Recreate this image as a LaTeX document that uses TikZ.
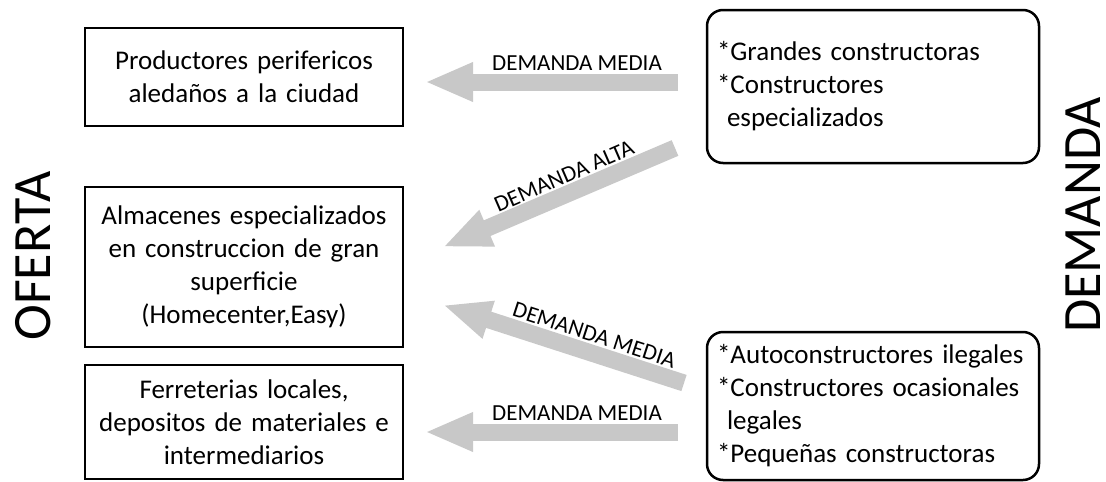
\documentclass[tikz,border=0pt]{standalone}
\usepackage{fontspec}
\setmainfont{Carlito}
\usepackage{tikz}
\usetikzlibrary{arrows.meta}

\definecolor{grisflecha}{RGB}{200,200,200}

\begin{document}
\begin{tikzpicture}[x=1pt, y=-1pt,
    caja/.style={draw, line width=2.5pt, minimum width=318pt, text width=300pt, align=center, font=\fontsize{27}{33}\selectfont},
    cajar/.style={draw, line width=2.5pt, rounded corners=16pt, minimum width=332pt, text width=312pt, inner xsep=10pt, align=left, font=\fontsize{27}{33}\selectfont},
    flecha/.style={draw=grisflecha, line width=17pt, -{Triangle[length=48pt, width=36pt]}},
    etiqueta/.style={inner sep=0pt, anchor=base, font=\fontsize{23}{28}\selectfont},
    titulo/.style={rotate=90, inner sep=0pt, anchor=base, font=\fontsize{54}{60}\selectfont}]
    
    \useasboundingbox (0,0) rectangle (1106,482);
    
    \coordinate (t1) at (678, 82);
    \coordinate (h1) at (425, 82);
    \coordinate (t2) at (675, 148);
    \coordinate (h2) at (443, 247);
    \coordinate (t3) at (684, 383);
    \coordinate (h3) at (443, 305);
    \coordinate (t4) at (678, 432);
    \coordinate (h4) at (425, 432);
    
    % oferta
    \node[caja, minimum height=98pt] (o1) at (244, 77) {Productores perifericos\\aledaños a la ciudad};
    \node[caja, minimum height=160pt] (o2) at (244, 267) {Almacenes especializados\\en construccion de gran\\superficie\\(Homecenter,Easy)};
    \node[caja, minimum height=114pt] (o3) at (244, 422) {Ferreterias locales,\\depositos de materiales e\\intermediarios};
    
    % demanda
    \node[cajar, minimum height=153pt] (d1) at (873, 86.5) {*Grandes constructoras\\{}*Constructores\\\hspace*{10pt}especializados};
    \node[cajar, minimum height=148pt] (d2) at (873, 406) {*Autoconstructores ilegales\\{}*Constructores ocasionales\\\hspace*{10pt}legales\\{}*Pequeñas constructoras};
    
    \draw[flecha] (t1) -- (h1);
    \draw[flecha] (t2) -- (h2);
    \draw[flecha] (t3) -- (h3);
    \draw[flecha] (t4) -- (h4);
    
    \node[etiqueta] (e1) at (577, 70) {DEMANDA MEDIA};
    \node[etiqueta, rotate=23.5] (e2) at (567, 183) {DEMANDA ALTA};
    \node[etiqueta, rotate=-18] (e3) at (592, 342) {DEMANDA MEDIA};
    \node[etiqueta] (e4) at (577, 420) {DEMANDA MEDIA};
    
    \node[titulo] (oferta) at (50, 256) {OFERTA};
    \node[titulo] (demanda) at (1100, 215) {DEMANDA};
    
\end{tikzpicture}
\end{document}
